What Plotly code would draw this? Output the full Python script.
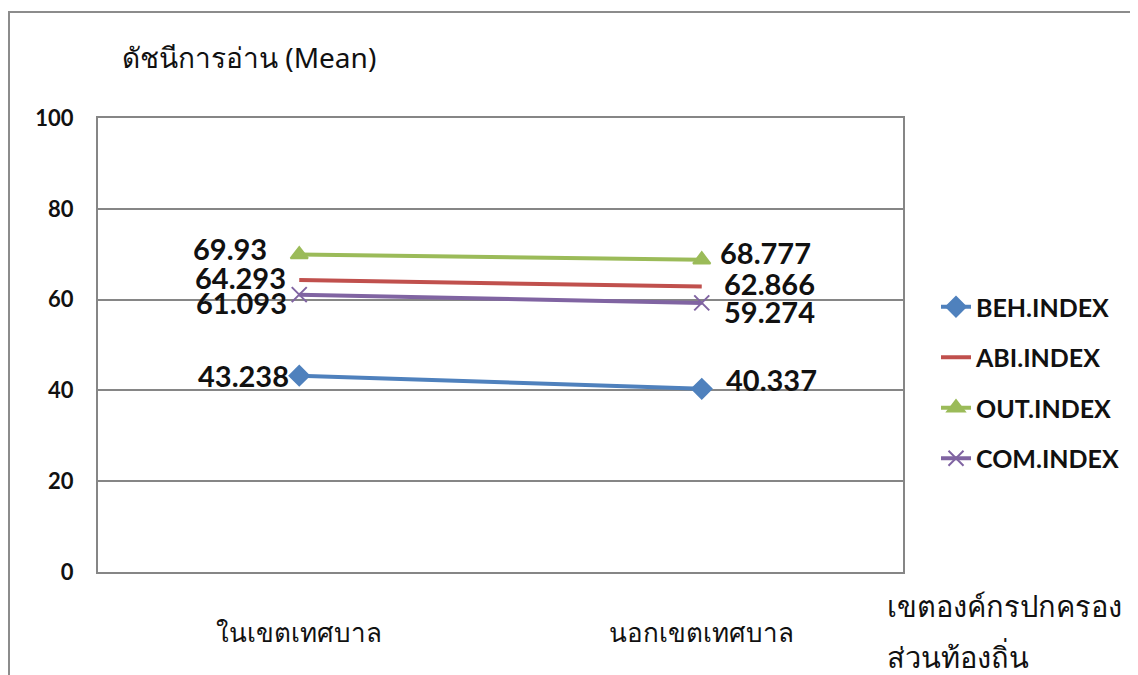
import plotly.graph_objects as go

categories = ["ในเขตเทศบาล", "นอกเขตเทศบาล"]
series_names = ["BEH.INDEX", "ABI.INDEX", "OUT.INDEX", "COM.INDEX"]
beh = [43.238, 40.337]
abi = [64.293, 62.866]
out = [69.93, 68.777]
com = [61.093, 59.274]
value_labels = {
    "BEH.INDEX": ["43.238", "40.337"],
    "ABI.INDEX": ["64.293", "62.866"],
    "OUT.INDEX": ["69.93", "68.777"],
    "COM.INDEX": ["61.093", "59.274"],
}
y_ticks = [0, 20, 40, 60, 80, 100]
axis_title_lines = ["เขตองค์กรปกครอง", "ส่วนท้องถิ่น"]

colors = {"BEH.INDEX": "#4F81BD", "ABI.INDEX": "#C0504D",
          "OUT.INDEX": "#9BBB59", "COM.INDEX": "#8064A2"}
symbols = {"BEH.INDEX": "diamond", "ABI.INDEX": "circle",
           "OUT.INDEX": "triangle-up", "COM.INDEX": "x-thin"}
values = {"BEH.INDEX": beh, "ABI.INDEX": abi, "OUT.INDEX": out, "COM.INDEX": com}

NUMFONT = "Lato"
THAI = "Noto Sans, Tahoma, sans-serif"

# page offset (browser body margin)
OFF = 8
W, H = 1138 - OFF, 675 - OFF
PL, PR, PT, PB = 98, 903, 118, 572  # plot area in reference pixels
PW, PH = PR - PL, PB - PT


def px(xp):
    return (xp - PL) / PW


def py(yp):
    return (PB - yp) / PH


fig = go.Figure()
xs = [0, 1]
for name in series_names:
    c = colors[name]
    marker = dict(color=c, size=15, symbol=symbols[name], line=dict(color=c, width=2))
    if name == "ABI.INDEX":
        marker = dict(color=c, size=1, opacity=0)
    fig.add_trace(go.Scatter(
        x=xs, y=values[name], mode="lines+markers", name=name,
        legendgroup=name,
        line=dict(color=c, width=4),
        marker=marker,
    ))

offsets = {
    "BEH.INDEX": [(-8, 0), (22, 9)],
    "ABI.INDEX": [(-11, 3), (20, 3)],
    "OUT.INDEX": [(-30, 6), (16, 7)],
    "COM.INDEX": [(-10, -8), (20, -9)],
}
for name in series_names:
    for i in range(2):
        dx, dy = offsets[name][i]
        fig.add_annotation(
            x=xs[i], y=values[name][i], xref="x", yref="y",
            text=value_labels[name][i], showarrow=False,
            xanchor="right" if i == 0 else "left", yanchor="middle",
            xshift=dx, yshift=dy,
            font=dict(family=NUMFONT, size=29, color="#111111", weight="bold"),
        )

fig.add_annotation(
    x=px(120), y=py(57), xref="paper", yref="paper",
    text="ดัชนีการอ่าน (Mean)", showarrow=False, xanchor="left", yanchor="middle",
    font=dict(family=THAI, size=28, color="#111111"),
)
for line_text, yc in zip(axis_title_lines, [605, 656]):
    fig.add_annotation(
        x=px(885), y=py(yc), xref="paper", yref="paper",
        text=line_text, showarrow=False, xanchor="left", yanchor="middle",
        font=dict(family=THAI, size=29, color="#111111"),
    )

fig.add_shape(type="rect", xref="paper", yref="paper",
              x0=px(9), x1=1.5, y0=-0.5, y1=py(12),
              line=dict(color="#8C8C8C", width=2), fillcolor="rgba(0,0,0,0)",
              layer="below")

fig.update_layout(
    width=W, height=H,
    margin=dict(l=PL - OFF, r=W - (PR - OFF), t=PT - OFF, b=H - (PB - OFF)),
    paper_bgcolor="white", plot_bgcolor="white",
    showlegend=True,
    legend=dict(
        x=px(936), xanchor="left",
        y=py(284), yanchor="top",
        font=dict(family=NUMFONT, size=25, color="#111111", weight="bold"),
        tracegroupgap=15, bgcolor="rgba(0,0,0,0)",
    ),
    xaxis=dict(
        range=[-0.5, 1.5], tickvals=xs, ticktext=categories,
        showgrid=False, zeroline=False,
        showline=True, mirror=True, linecolor="#868686", linewidth=2,
        ticks="", ticklabelstandoff=37,
        tickfont=dict(family=THAI, size=26, color="#111111"),
    ),
    yaxis=dict(
        range=[0, 100], tickvals=y_ticks,
        showgrid=True, gridcolor="#868686", gridwidth=1.5, zeroline=False,
        showline=True, mirror=True, linecolor="#868686", linewidth=2,
        ticks="", ticklabelstandoff=18,
        tickfont=dict(family=NUMFONT, size=22, color="#111111", weight="bold"),
    ),
)

fig.write_html("out.html")
